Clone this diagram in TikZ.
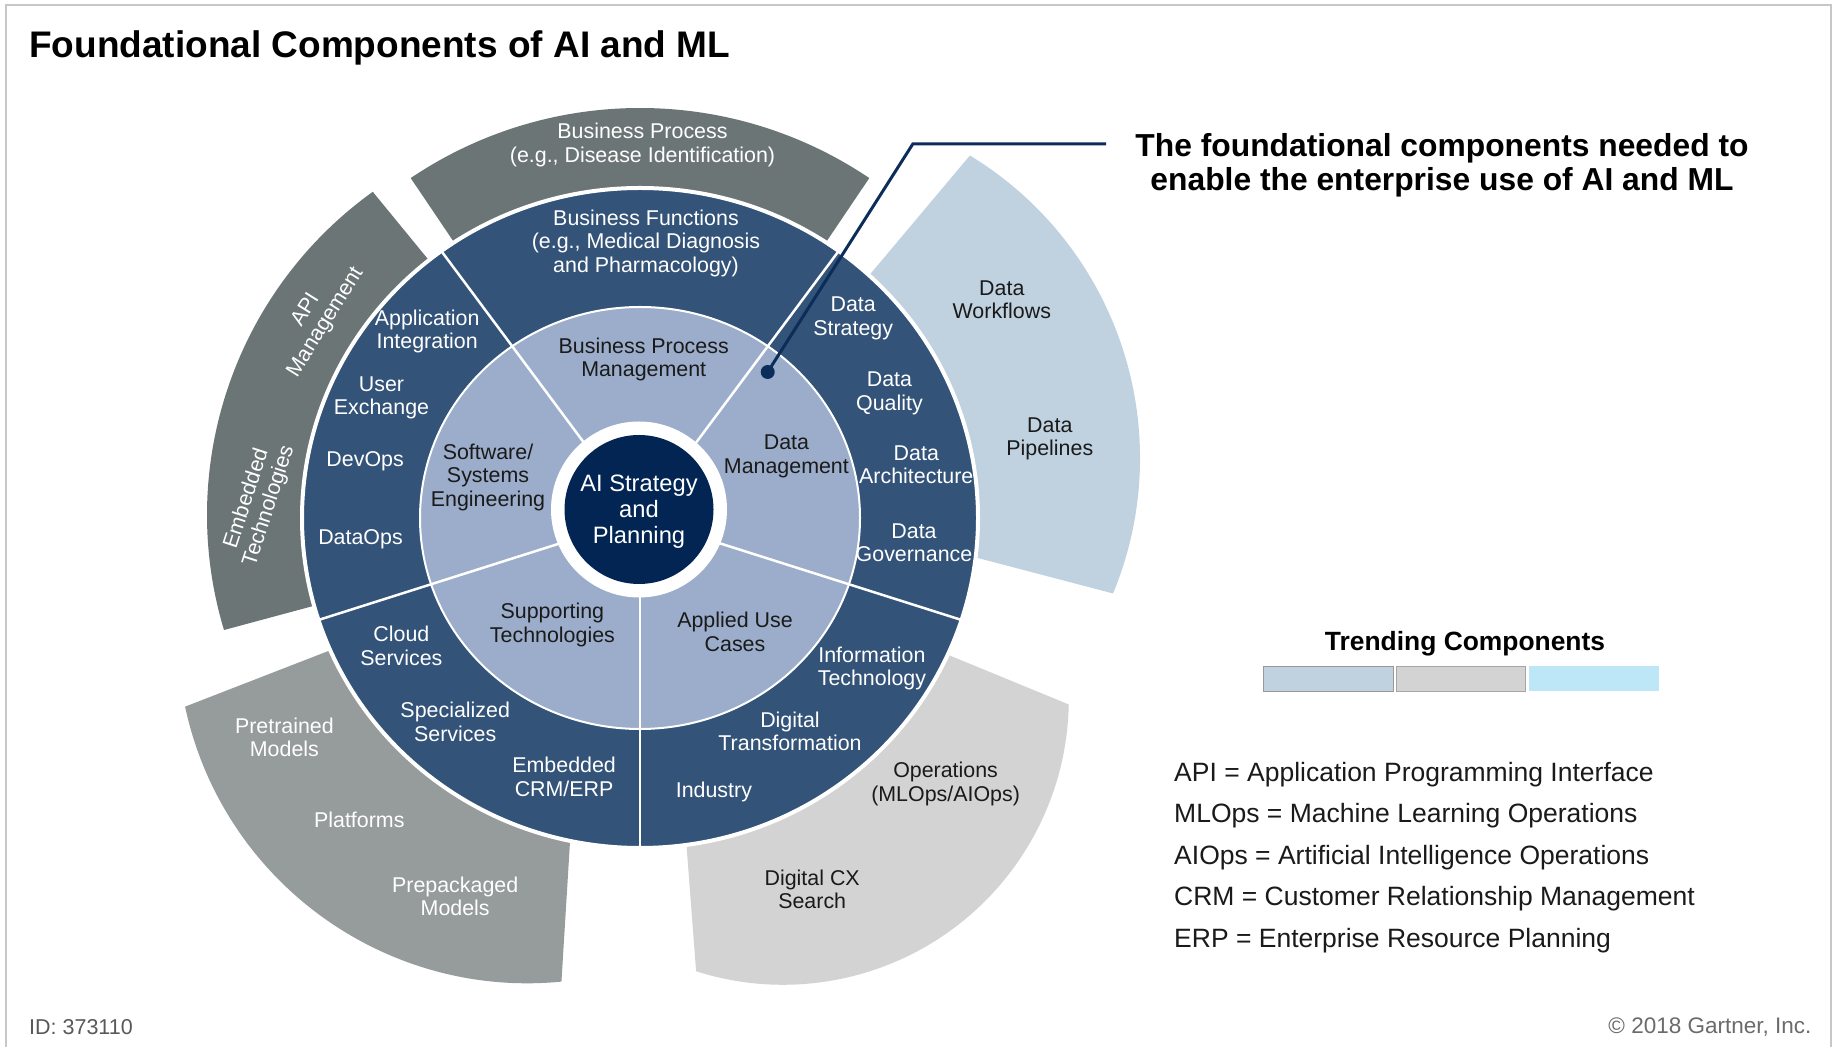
\documentclass[tikz,border=0pt]{standalone}
\usepackage{fontspec}
\setmainfont{Liberation Sans}
\usetikzlibrary{calc}

\definecolor{navy}{HTML}{022553}
\definecolor{ringlight}{HTML}{9BADCA}
\definecolor{ringdark}{HTML}{335378}
\definecolor{graydark}{HTML}{6C7575}
\definecolor{graymid}{HTML}{969B9B}
\definecolor{graylight}{HTML}{D3D3D3}
\definecolor{bluelight}{HTML}{C0D1E0}
\definecolor{cyanlight}{HTML}{BDE6F7}
\definecolor{callout}{HTML}{0B2D59}
\definecolor{inktext}{HTML}{1A1A1A}

\begin{document}
\begin{tikzpicture}[x=1pt,y=1pt,
  txtdrop/.style={yshift=-2.3pt},
  lbl/.style={txtdrop, font=\fontsize{21.4}{23.4}\selectfont, align=center, inner sep=0pt},
  wlbl/.style={lbl, text=white},
  blbl/.style={lbl, text=inktext},
  sepline/.style={draw=white, line width=2.5pt},
  legendtext/.style={txtdrop, anchor=west, inner sep=0pt, text=inktext, font=\fontsize{26.5}{30}\selectfont},
  swatch/.style={line width=1pt, minimum height=24.6pt, inner sep=0pt, anchor=south west}]

\useasboundingbox (0,0) rectangle (1835,1046);
\fill[white] (0,0) rectangle (1835,1046);
\draw[black!22, line width=1.5pt] (6,-5) rectangle (1831,1041);

% centres of the rings and of the core disc
\coordinate (rc) at (640,528);
\coordinate (cc) at (639,536.5);

% ---- outer trending segments (inner parts hidden by the rings) ----
% top: business process
\fill[graydark] (rc) -- ++(56:410) arc[start angle=56, end angle=124, radius=410] -- cycle;
% left: API management / embedded technologies
\fill[graydark] (rc) -- ($(605,531)+(125.7:398)$)
  arc[start angle=125.7, end angle=196.8, radius=398] -- cycle;
% right: data workflows / pipelines
\fill[bluelight] (823.6,716.4) -- ($(786,588)+(58.7:354)$)
  arc[start angle=58.7, end angle=-22.5, radius=354] -- (895.9,509.5) -- (rc) -- cycle;
% lower left: models and platforms
\fill[graymid] (403.9,424.3) -- ($(527.3,412.7)+(192.1:350)$)
  arc[start angle=192.1, end angle=275.6, radius=350] -- (574.8,282.6) -- (rc) -- cycle;
% lower right: operations / digital CX
\fill[graylight] (874.3,421.5) -- ($(783,347)+(-1.1:285.8)$)
  arc[start angle=-1.1, end angle=-107.7, radius=285.8] -- (680.5,279.1) -- (rc) -- cycle;

% ---- rings ----
\filldraw[fill=ringdark, draw=white, line width=4pt] (rc) ellipse[x radius=338, y radius=330];
\filldraw[fill=ringlight, draw=white, line width=2pt] (rc) ellipse[x radius=220, y radius=211];
\foreach \a in {54,126,198,270,342}
  \draw[sepline] (rc) -- ++(\a:338 and 330);

% ---- core ----
\fill[white] (cc) circle[radius=88];
\node[circle, fill=navy, minimum size=149pt, inner sep=0pt] (core) at (cc) {};
\node[txtdrop, inner sep=0pt, text=white, align=center, font=\fontsize{23.7}{25.7}\selectfont]
  (corelbl) at (core.center) {AI Strategy\\and\\Planning};

% ---- inner ring labels ----
\node[blbl] (bpm) at (643.7,689) {Business Process\\Management};
\node[blbl] (sse) at (488,571) {Software/\\Systems\\Engineering};
\node[blbl] (dm) at (786.4,592) {Data\\Management};
\node[blbl] (st) at (552.4,423.4) {Supporting\\Technologies};
\node[blbl] (auc) at (735,416.4) {Applied Use\\Cases};

% ---- outer ring labels ----
\node[wlbl] (bf) at (646,805) {Business Functions\\(e.g., Medical Diagnosis\\and Pharmacology)};
\node[wlbl] (appint) at (427.2,717.1) {Application\\Integration};
\node[wlbl] (ue) at (381.5,650.4) {User\\Exchange};
\node[wlbl] (devops) at (365.1,587.2) {DevOps};
\node[wlbl] (dataops) at (360.5,508.8) {DataOps};
\node[wlbl] (cs) at (401.4,402.3) {Cloud\\Services};
\node[wlbl] (ss) at (455.2,326.3) {Specialized\\Services};
\node[wlbl] (ecrm) at (564.1,271.3) {Embedded\\CRM/ERP};
\node[wlbl] (ind) at (713.9,256) {Industry};
\node[wlbl] (dt) at (790,317) {Digital\\Transformation};
\node[wlbl] (itech) at (871.9,380.1) {Information\\Technology};
\node[wlbl] (dg) at (914,505.3) {Data\\Governance};
\node[wlbl] (da) at (916.3,583.7) {Data\\Architecture};
\node[wlbl] (dq) at (889.4,655.1) {Data\\Quality};
\node[wlbl] (ds) at (853.2,730) {Data\\Strategy};

% ---- trending segment labels ----
\node[wlbl] (bp) at (642.5,903.2) {Business Process\\(e.g., Disease Identification)};
\node[wlbl, rotate=58] (api) at (316,732) {API\\Management};
\node[wlbl, rotate=72] (emb) at (258,546) {Embedded\\Technologies};
\node[blbl] (dw) at (1001.8,748.7) {Data\\Workflows};
\node[blbl] (dp) at (1049.8,609.5) {Data\\Pipelines};
\node[wlbl] (pm) at (284.4,311) {Pretrained\\Models};
\node[wlbl] (pf) at (359.3,228) {Platforms};
\node[wlbl] (ppm) at (455.2,151.9) {Prepackaged\\Models};
\node[blbl] (ops) at (945.6,264.2) {Operations\\(MLOps/AIOps)};
\node[blbl] (dcx) at (812.2,158.9) {Digital CX\\Search};

% ---- callout ----
\node[circle, fill=callout, inner sep=0pt, minimum size=14pt] (dot) at (767.7,674) {};
\coordinate (bend) at (912.8,902);
\coordinate (lineend) at (1106,902);
\draw[callout, line width=3pt] (dot.center) -- (bend) -- (lineend);
\node[txtdrop, align=center, inner sep=0pt, font=\bfseries\fontsize{31.8}{34}\selectfont] (note) at (1442,882.8)
  {The foundational components needed to\\enable the enterprise use of AI and ML};

% ---- title ----
\node[txtdrop, anchor=west, inner sep=0pt, font=\bfseries\fontsize{37}{40}\selectfont] (title) at (29,1000.5)
  {Foundational Components of AI and ML};

% ---- legend ----
\node[txtdrop, inner sep=0pt, font=\bfseries\fontsize{26.4}{30}\selectfont] (trend) at (1465,404.7) {Trending Components};
\node[swatch, draw=black!40, fill=bluelight, minimum width=130pt] (sw1) at (1263,354.4) {};
\node[swatch, draw=black!35, fill=graylight, minimum width=129pt] (sw2) at (1396,354.4) {};
\node[swatch, fill=cyanlight, minimum width=130pt] (sw3) at (1528,354.4) {};

\node[legendtext] (l1) at (1174,273.6) {API = Application Programming Interface};
\node[legendtext] (l2) at (1174,232.6) {MLOps = Machine Learning Operations};
\node[legendtext] (l3) at (1174,190.5) {AIOps = Artificial Intelligence Operations};
\node[legendtext] (l4) at (1174,149.6) {CRM = Customer Relationship Management};
\node[legendtext] (l5) at (1174,107.4) {ERP = Enterprise Resource Planning};

% ---- footer ----
\node[txtdrop, anchor=west, inner sep=0pt, text=black!65, font=\fontsize{21.5}{24}\selectfont] (id) at (29,21) {ID: 373110};
\node[txtdrop, anchor=east, inner sep=0pt, text=black!58, font=\fontsize{22.5}{24}\selectfont] (copy) at (1811.6,21) {\textcopyright{} 2018 Gartner, Inc.};
\end{tikzpicture}
\end{document}
